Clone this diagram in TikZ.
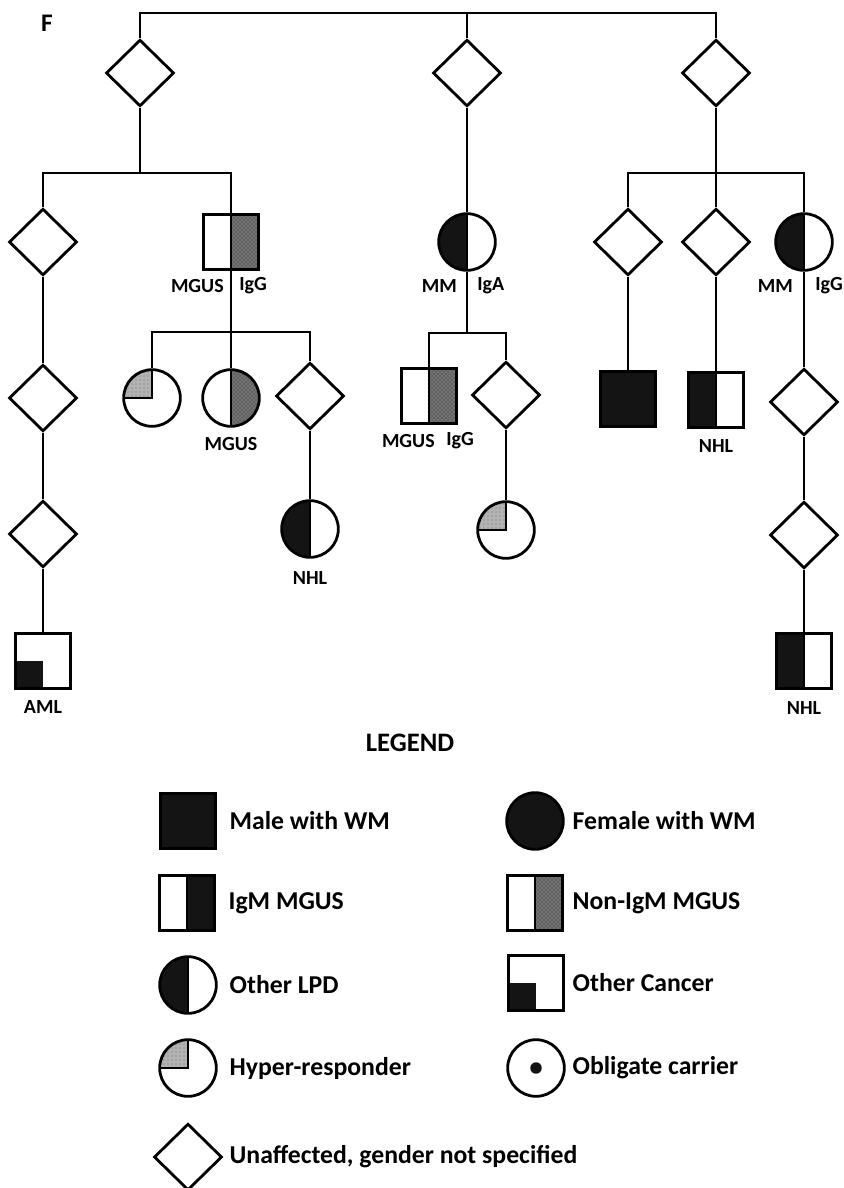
\documentclass[tikz,border=0pt]{standalone}
\usepackage{fontspec}
\setmainfont{Carlito}
\usepackage{tikz}
\usetikzlibrary{shapes,patterns,positioning}
\tikzstyle{line} = [draw, line width=2.1pt]
\tikzstyle{unk} = [diamond, draw=black, line width=2.1pt, fill=white, inner sep=0pt, minimum width=51pt, minimum height=50pt]
\tikzstyle{male} = [rectangle, draw=black, line width=2.1pt, fill=white, inner sep=0pt, minimum size=41pt]
\tikzstyle{female} = [circle, draw=black, line width=2.1pt, fill=white, inner sep=0pt, minimum size=42.5pt]
\tikzstyle{lbl} = [font=\bfseries\fontsize{15}{18}\selectfont, inner sep=0pt]
\tikzstyle{key} = [font=\bfseries\fontsize{19.3}{23}\selectfont, inner sep=0pt]
\tikzset{
  blackleft/.style={path picture={
    \fill[black!92] (path picture bounding box.south west) rectangle (path picture bounding box.north);
    \draw[line width=2.1pt] (path picture bounding box.north) -- (path picture bounding box.south);}},
  blackright/.style={path picture={
    \fill[black!92] (path picture bounding box.north) rectangle (path picture bounding box.south east);
    \draw[line width=2.1pt] (path picture bounding box.north) -- (path picture bounding box.south);}},
  darkhalf/.style={path picture={
    \fill[black!55] (path picture bounding box.north) rectangle (path picture bounding box.south east);
    \fill[pattern=crosshatch dots, pattern color=black!85] (path picture bounding box.north) rectangle (path picture bounding box.south east);
    \draw[line width=2.1pt] (path picture bounding box.north) -- (path picture bounding box.south);}},
  blackbl/.style={path picture={
    \fill[black!92] (path picture bounding box.south west) rectangle (path picture bounding box.center);}},
  lighttl/.style={path picture={
    \fill[black!30] (path picture bounding box.north west) rectangle (path picture bounding box.center);
    \fill[pattern=dots, pattern color=black!55] (path picture bounding box.north west) rectangle (path picture bounding box.center);
    \draw[line width=2.1pt] (path picture bounding box.north) -- (path picture bounding box.center) -- (path picture bounding box.west);}},
  carrier/.style={path picture={
    \fill[black!92] (path picture bounding box.center) circle (4.3pt);}}
}

\begin{document}
\begin{tikzpicture}[x=0.75pt, y=-0.75pt]
\useasboundingbox (0,0) rectangle (843,1188);

\node (F) [font=\bfseries\fontsize{19}{22}\selectfont] at (47,23) {F};

\node (g1a) [unk] at (140,73) {};
\node (g1b) [unk] at (467,73) {};
\node (g1c) [unk] at (716,73) {};
\coordinate (top) at (467,13);
\path [line] (g1a.north) |- (top) -| (g1c.north);
\path [line] (g1b.north) -- (top);

\node (g2a) [unk] at (43,242) {};
\node (g2b) [male,darkhalf] at (231,242) {};
\coordinate (barL) at (140,173);
\path [line] (g1a.south) -- (barL);
\path [line] (g2a.north) |- (barL) -| (g2b.north);
\node (g2bl) [lbl,anchor=east] at (224,286) {MGUS};
\node (g2br) [lbl,anchor=west] at (239,286) {IgG};

\node (g2c) [female,blackleft] at (467,242) {};
\path [line] (g1b.south) -- (g2c.north);
\node (g2cl) [lbl,anchor=east] at (457,286) {MM};
\node (g2cr) [lbl,anchor=west] at (477,286) {IgA};

\node (g2d) [unk] at (628,242) {};
\node (g2e) [unk] at (716,242) {};
\node (g2f) [female,blackleft] at (804,242) {};
\coordinate (barR) at (716,173);
\path [line] (g1c.south) -- (g2e.north);
\path [line] (g2d.north) |- (barR) -| (g2f.north);
\node (g2fl) [lbl,anchor=east] at (793,286) {MM};
\node (g2fr) [lbl,anchor=west] at (815,286) {IgG};

\node (g3a) [unk] at (43,398) {};
\path [line] (g2a.south) -- (g3a.north);

\node (g3b) [female,lighttl] at (152,398) {};
\node (g3c) [female,darkhalf] at (231,398) {};
\node (g3d) [unk] at (310,396) {};
\coordinate (barB) at (231,332);
\path [line] (g2b.south) -- (barB) -- (g3c.north);
\path [line] (g3b.north) |- (barB) -| (g3d.north);
\node (g3cl) [lbl] at (231,444) {MGUS};

\node (g3e) [male,darkhalf] at (429,396) {};
\node (g3f) [unk] at (506,395) {};
\coordinate (barC) at (467,333);
\path [line] (g2c.south) -- (barC);
\path [line] (g3e.north) |- (barC) -| (g3f.north);
\node (g3el) [lbl,anchor=east] at (435,441) {MGUS};
\node (g3er) [lbl,anchor=west] at (446,441) {IgG};

\node (g3g) [male,fill=black!92] at (628,399) {};
\path [line] (g2d.south) -- (g3g.north);

\node (g3h) [male,blackleft] at (716,400) {};
\path [line] (g2e.south) -- (g3h.north);
\node (g3hl) [lbl] at (716,446) {NHL};

\node (g3i) [unk] at (804,402) {};
\path [line] (g2f.south) -- (g3i.north);

\node (g4a) [unk] at (43,534) {};
\path [line] (g3a.south) -- (g4a.north);

\node (g4b) [female,blackleft] at (310,529) {};
\path [line] (g3d.south) -- (g4b.north);
\node (g4bl) [lbl] at (310,578) {NHL};

\node (g4c) [female,lighttl] at (506,530) {};
\path [line] (g3f.south) -- (g4c.north);

\node (g4d) [unk] at (804,535) {};
\path [line] (g3i.south) -- (g4d.north);

\node (g5a) [male,blackbl] at (43,661) {};
\path [line] (g4a.south) -- (g5a.north);
\node (g5al) [lbl] at (43,707) {AML};

\node (g5b) [male,blackleft] at (804,661) {};
\path [line] (g4d.south) -- (g5b.north);
\node (g5bl) [lbl] at (804,708) {NHL};


\node (legend) [font=\bfseries\fontsize{20}{24}\selectfont] at (410,743) {LEGEND};

\node (k1) [male,fill=black!92] at (188,821) {};
\node (k1t) [key,right=9.5pt of k1] {Male with WM};

\node (k2) [female,fill=black!92] at (535,821) {};
\node (k2t) [key,right=5.8pt of k2] {Female with WM};

\node (k3) [male,blackright] at (187,903) {};
\node (k3t) [key,right=9.5pt of k3] {IgM MGUS};

\node (k4) [male,darkhalf] at (535,903) {};
\node (k4t) [key,right=6.5pt of k4] {Non-IgM MGUS};

\node (k5) [female,blackleft] at (188,985) {};
\node (k5t) [key,right=8.8pt of k5] {Other LPD};

\node (k6) [male,blackbl] at (536,983) {};
\node (k6t) [key,right=5.8pt of k6] {Other Cancer};

\node (k7) [female,lighttl] at (188,1068) {};
\node (k7t) [key,right=8.8pt of k7] {Hyper-responder};

\node (k8) [female,carrier] at (536,1068) {};
\node (k8t) [key,right=5pt of k8] {Obligate carrier};

\node (k9) [unk] at (188,1157) {};
\node (k9t) [key,right=4.5pt of k9] {Unaffected, gender not specified};

\end{tikzpicture}
\end{document}
